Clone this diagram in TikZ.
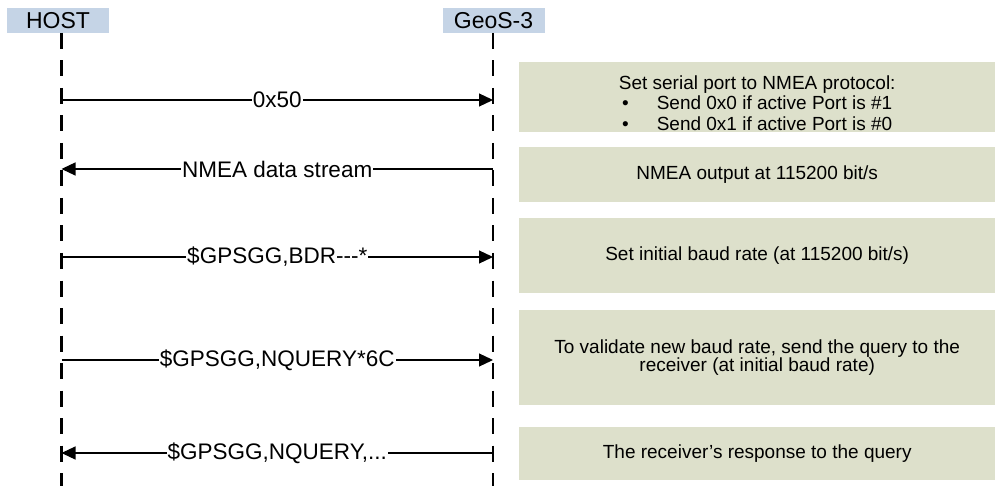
\documentclass[tikz,border=0pt]{standalone}
\usepackage{fontspec}
\setmainfont{Liberation Sans}
\usetikzlibrary{arrows.meta}
\definecolor{headblue}{RGB}{197,212,230}
\definecolor{notegreen}{RGB}{221,224,203}
\begin{document}
\begin{tikzpicture}[x=1pt,y=-1pt,
  head/.style={fill=headblue,minimum width=102pt,minimum height=25pt,inner sep=0pt,
    font=\fontsize{23}{24}\selectfont},
  lifeline/.style={line width=2.2pt,dash pattern=on 16pt off 11.5pt},
  msg/.style={line width=1.2pt,-{Triangle[length=14pt,width=13pt]}},
  msglabel/.style={fill=white,inner xsep=1pt,inner ysep=0pt,
    font=\fontsize{22.5}{26}\selectfont},
  note/.style={fill=notegreen,anchor=north west,inner sep=0pt,minimum width=476pt,
    align=center,font=\fontsize{19}{20.5}\selectfont}]
  \useasboundingbox (0,0) rectangle (995,486);
  % participants
  \node[head] (host) at (58,20.5) {HOST};
  \node[head] (geos) at (493.5,20.5) {GeoS-3};
  \coordinate (htop) at (61.5,33);
  \coordinate (hbot) at (61.5,486);
  \coordinate (gtop) at (493,33);
  \coordinate (gbot) at (493,486);
  \draw[lifeline] (htop) -- (hbot);
  \draw[lifeline] (gtop) -- (gbot);
  % message rows
  \coordinate (h1) at (61.5,100);
  \coordinate (g1) at (493,100);
  \coordinate (h2) at (61.5,169);
  \coordinate (g2) at (493,169);
  \coordinate (h3) at (61.5,257);
  \coordinate (g3) at (493,257);
  \coordinate (h4) at (61.5,360);
  \coordinate (g4) at (493,360);
  \coordinate (h5) at (61.5,453);
  \coordinate (g5) at (493,453);
  \draw[msg] (h1) -- node[msglabel] (m1) {0x50} (g1);
  \draw[msg] (g2) -- node[msglabel] (m2) {NMEA data stream} (h2);
  \draw[msg] (h3) -- node[msglabel] (m3) {\$GPSGG,BDR-{}-{}-*} (g3);
  \draw[msg] (h4) -- node[msglabel] (m4) {\$GPSGG,NQUERY*6C} (g4);
  \draw[msg] (g5) -- node[msglabel] (m5) {\$GPSGG,NQUERY,...} (h5);
  % notes
  \node[note,minimum height=70pt] (n1) at (519,62)
    {\raisebox{0pt}[25pt][0pt]{}Set serial port to NMEA protocol:\\
     \textbullet\hspace{28pt}Send 0x0 if active Port is \#1\\
     \textbullet\hspace{28pt}Send 0x1 if active Port is \#0};
  \node[note,minimum height=55pt] (n2) at (519,147) {NMEA output at 115200 bit/s};
  \node[note,minimum height=75pt] (n3) at (519,218) {Set initial baud rate (at 115200 bit/s)};
  \node[note,minimum height=95pt,font=\fontsize{19}{18.5}\selectfont] (n4) at (519,310)
    {To validate new baud rate, send the query to the\\receiver (at initial baud rate)};
  \node[note,minimum height=53pt] (n5) at (519,427) {The receiver’s response to the query};
\end{tikzpicture}
\end{document}
